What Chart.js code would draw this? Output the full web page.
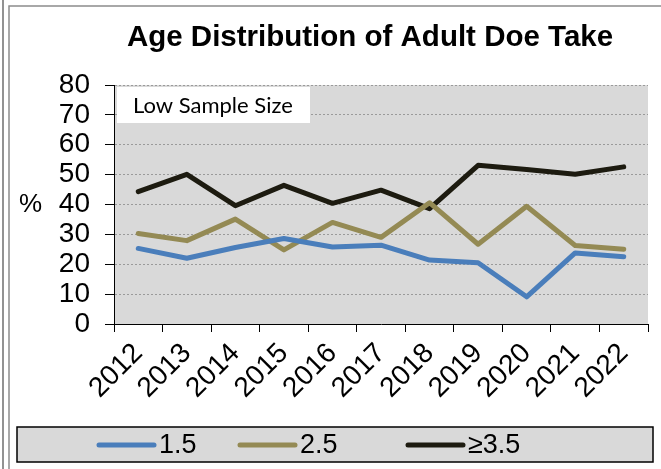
<!DOCTYPE html>
<html>
<head>
<meta charset="utf-8">
<script src="https://cdn.jsdelivr.net/npm/chart.js@4/dist/chart.umd.min.js"></script>
<style>
    html, body { margin: 0; padding: 0; background: #fff; }
    #wrap { width: 661px; height: 469px; position: relative; }
</style>
</head>
<body>
<div id="wrap"><canvas id="ageChart"></canvas></div>
<script>
// Seasons and share of adult doe harvest by age class (%)
const years = ['2012', '2013', '2014', '2015', '2016', '2017', '2018', '2019', '2020', '2021', '2022'];
const age15 = [25.3, 22.0, 25.6, 28.6, 25.8, 26.4, 21.4, 20.5, 9.1, 23.8, 22.5];
const age25 = [30.3, 27.9, 35.1, 24.8, 34.0, 29.0, 40.6, 26.7, 39.4, 26.3, 25.0];
const age35 = [44.3, 50.1, 39.6, 46.4, 40.4, 44.8, 38.6, 53.1, 51.7, 50.1, 52.6];

const seriesNames = ['1.5', '2.5', '\u22653.5'];
const yTicks = [0, 10, 20, 30, 40, 50, 60, 70, 80];

const titleText = 'Age Distribution of Adult Doe Take';
const noteText = 'Low Sample Size';

const ARIAL = '"Liberation Sans", Arial, sans-serif';

// legend entry x positions (line start) inside the bottom panel
const legendX = [99, 240, 408];

// frame, plot background, note box, title, "%" label and legend panel
const decorations = {
    id: 'decorations',
    beforeDraw(chart) {
        const ctx = chart.ctx;
        const a = chart.chartArea;
        ctx.save();
        ctx.fillStyle = '#fff';
        ctx.fillRect(0, 0, chart.width, chart.height);

        ctx.strokeStyle = '#6e6e6e';
        ctx.lineWidth = 1.5;
        ctx.beginPath();
        ctx.moveTo(3, 0); ctx.lineTo(3, chart.height);
        ctx.stroke();
        ctx.strokeStyle = '#8c8c8c';
        ctx.beginPath();
        ctx.moveTo(9, chart.height); ctx.lineTo(9, 6); ctx.lineTo(chart.width, 6);
        ctx.stroke();

        ctx.fillStyle = '#d9d9d9';
        ctx.fillRect(a.left, a.top, a.right - a.left, a.bottom - a.top);
        ctx.restore();
    },
    afterDatasetsDraw(chart) {
        const ctx = chart.ctx;
        ctx.save();
        ctx.fillStyle = '#fff';
        ctx.fillRect(117, 87, 193, 36);
        ctx.fillStyle = '#000';
        ctx.font = '22px Lato, ' + ARIAL;
        ctx.textBaseline = 'middle';
        ctx.textAlign = 'left';
        ctx.fillText(noteText, 133, 106);

        ctx.font = 'bold 29.5px ' + ARIAL;
        ctx.textAlign = 'center';
        ctx.fillText(titleText, 370, 38);

        ctx.font = '26px ' + ARIAL;
        ctx.textAlign = 'left';
        ctx.fillText('%', 19, 205);

        // legend panel
        ctx.fillStyle = '#d9d9d9';
        ctx.fillRect(17, 427, 636, 35);
        ctx.strokeStyle = '#000';
        ctx.lineWidth = 1.5;
        ctx.strokeRect(17, 427, 636, 35);

        ctx.font = '27px ' + ARIAL;
        ctx.lineCap = 'round';
        chart.data.datasets.forEach((ds, i) => {
            const x = legendX[i];
            const y = 445;
            ctx.strokeStyle = ds.borderColor;
            ctx.lineWidth = ds.borderWidth;
            ctx.beginPath();
            ctx.moveTo(x, y);
            ctx.lineTo(x + 55, y);
            ctx.stroke();
            ctx.fillStyle = '#000';
            ctx.fillText(ds.label, x + 60, y + 1);
        });
        ctx.restore();
    }
};

function lineSet(label, data, color) {
    return {
        label: label,
        data: data,
        borderColor: color,
        backgroundColor: color,
        borderWidth: 5,
        borderCapStyle: 'round',
        borderJoinStyle: 'round',
        pointRadius: 0,
        pointHoverRadius: 0,
        tension: 0,
        fill: false
    };
}

const ctx = document.getElementById('ageChart').getContext('2d');
const ageChart = new Chart(ctx, {
    type: 'line',
    data: {
        labels: years,
        datasets: [
            lineSet(seriesNames[0], age15, '#4a7ebb'),
            lineSet(seriesNames[1], age25, '#948a54'),
            lineSet(seriesNames[2], age35, '#1d1b10')
        ]
    },
    options: {
        responsive: true,
        maintainAspectRatio: false,
        animation: false,
        layout: {
            padding: { top: 85, left: 0, right: 13, bottom: 0 }
        },
        plugins: {
            title: { display: false },
            tooltip: { enabled: false },
            legend: { display: false }
        },
        scales: {
            x: {
                offset: true,
                afterFit(scale) { scale.height = 145; },
                grid: {
                    offset: true,
                    drawOnChartArea: false,
                    drawTicks: true,
                    tickLength: 8,
                    tickColor: '#000'
                },
                border: { color: '#000', width: 1 },
                ticks: {
                    color: '#000',
                    autoSkip: false,
                    minRotation: 45,
                    maxRotation: 45,
                    padding: 5,
                    font: { family: ARIAL, size: 28 }
                }
            },
            y: {
                min: 0,
                max: 80,
                afterFit(scale) { scale.width = 114; },
                afterBuildTicks(scale) { scale.ticks = yTicks.map(v => ({ value: v })); },
                grid: {
                    color: '#9a9a9a',
                    lineWidth: 1,
                    tickBorderDash: [],
                    tickColor: '#000',
                    tickLength: 9
                },
                border: { color: '#000', width: 1, dash: [2, 2] },
                ticks: {
                    color: '#000',
                    autoSkip: false,
                    padding: 15,
                    font: { family: ARIAL, size: 28 }
                }
            }
        }
    },
    plugins: [decorations]
});
</script>
</body>
</html>
